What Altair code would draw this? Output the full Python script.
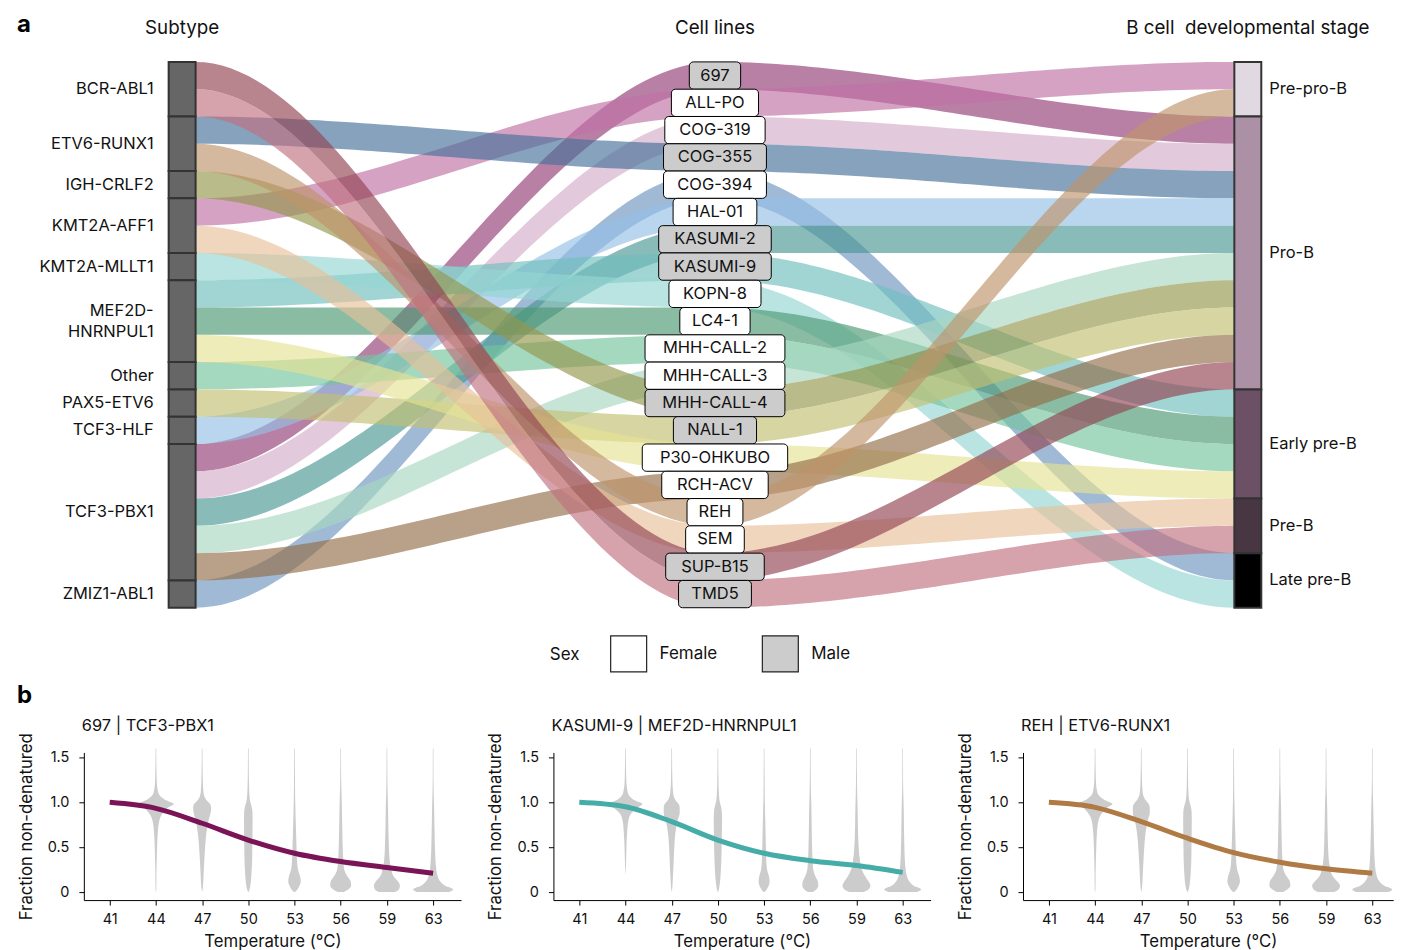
import altair as alt
import numpy as np
import pandas as pd

FONT = "Inter"

# ---------------- data: panel a (alluvial) ----------------
cell_lines = ["697", "ALL-PO", "COG-319", "COG-355", "COG-394", "HAL-01", "KASUMI-2",
              "KASUMI-9", "KOPN-8", "LC4-1", "MHH-CALL-2", "MHH-CALL-3", "MHH-CALL-4",
              "NALL-1", "P30-OHKUBO", "RCH-ACV", "REH", "SEM", "SUP-B15", "TMD5"]
cell_subtype = ["TCF3-PBX1", "KMT2A-AFF1", "TCF3-PBX1", "ETV6-RUNX1", "ZMIZ1-ABL1", "TCF3-HLF",
                "TCF3-PBX1", "MEF2D-HNRNPUL1", "KMT2A-MLLT1", "MEF2D-HNRNPUL1", "Other",
                "TCF3-PBX1", "IGH-CRLF2", "PAX5-ETV6", "MEF2D-HNRNPUL1", "TCF3-PBX1",
                "ETV6-RUNX1", "KMT2A-AFF1", "BCR-ABL1", "BCR-ABL1"]
cell_stage = ["Pro-B", "Pre-pro-B", "Pro-B", "Pro-B", "Late pre-B", "Pro-B", "Pro-B",
              "Early pre-B", "Late pre-B", "Early pre-B", "Early pre-B", "Pro-B", "Pro-B",
              "Pro-B", "Early pre-B", "Pro-B", "Pre-pro-B", "Pre-B", "Pro-B", "Pre-B"]
cell_sex = ["Male", "Female", "Female", "Male", "Female", "Female", "Male", "Male", "Female",
            "Female", "Female", "Female", "Male", "Male", "Female", "Female", "Female",
            "Female", "Male", "Male"]
subtypes = ["BCR-ABL1", "ETV6-RUNX1", "IGH-CRLF2", "KMT2A-AFF1", "KMT2A-MLLT1",
            "MEF2D-HNRNPUL1", "Other", "PAX5-ETV6", "TCF3-HLF", "TCF3-PBX1", "ZMIZ1-ABL1"]
stages = ["Pre-pro-B", "Pro-B", "Early pre-B", "Pre-B", "Late pre-B"]
sexes = ["Female", "Male"]
column_titles = ["Subtype", "Cell lines", "B cell\u00a0 developmental stage"]

# ---------------- data: panel b (melting curves) ----------------
temps = [41, 44, 47, 50, 53, 56, 59, 63]
panel_titles = ["697 | TCF3-PBX1", "KASUMI-9 | MEF2D-HNRNPUL1", "REH | ETV6-RUNX1"]
curve_697 = [1.0, 0.933, 0.767, 0.58, 0.433, 0.34, 0.274, 0.21]
curve_kasumi9 = [1.0, 0.95, 0.785, 0.58, 0.433, 0.35, 0.296, 0.22]
curve_reh = [1.0, 0.944, 0.785, 0.60, 0.44, 0.333, 0.26, 0.21]

# violin half-widths (px) read at these levels of fraction non-denatured
violin_levels = [0, 0.03, 0.07, 0.12, 0.18, 0.25, 0.35, 0.5, 0.65, 0.8, 0.88, 0.94, 0.98, 1.03, 1.1, 1.25, 1.6]
violin_697 = {
    44: [0, 0.4, 0.4, 0.5, 0.5, 0.6, 0.8, 1.2, 1.8, 3.5, 7, 12, 18, 9, 2.5, 0.8, 0.3],
    47: [0, 0.5, 0.9, 1.2, 1.4, 1.7, 2.2, 3.0, 4.2, 6.5, 8.5, 9, 8, 4, 1.5, 0.7, 0.3],
    50: [0.2, 1.2, 2.0, 2.6, 3.0, 3.4, 3.8, 4.0, 4.2, 4.3, 4.2, 3.6, 2.6, 1.6, 1.0, 0.6, 0.3],
    53: [0.5, 3.0, 5.0, 6.3, 5.5, 3.5, 2.5, 2.0, 1.6, 1.2, 1.0, 0.9, 0.8, 0.7, 0.6, 0.5, 0.3],
    56: [3, 7.5, 10.5, 10, 6.5, 3.6, 2.6, 2.0, 1.7, 1.4, 1.3, 1.2, 1.1, 1.0, 0.8, 0.5, 0.3],
    59: [8, 12, 13, 11, 6.5, 4.5, 2.8, 2.0, 1.6, 1.3, 1.2, 1.1, 1.0, 0.9, 0.7, 0.5, 0.3],
    63: [16, 20, 12, 7, 4.5, 3.2, 2.4, 1.8, 1.5, 1.2, 1.1, 1.0, 0.9, 0.8, 0.6, 0.4, 0.3],
}
violin_kasumi9 = {
    44: [0, 0, 0, 0, 0, 0.3, 0.6, 1.0, 1.6, 3, 6, 12, 17, 8, 2.5, 0.8, 0.3],
    47: [0, 0.4, 0.8, 1.0, 1.3, 1.6, 2.0, 2.6, 3.6, 6.0, 8.0, 8.0, 7.0, 3.5, 1.5, 0.7, 0.3],
    50: [0.2, 1.0, 1.6, 2.2, 2.6, 3.0, 3.4, 3.8, 4.0, 4.2, 4.0, 3.4, 2.4, 1.5, 1.0, 0.6, 0.3],
    53: [0.5, 2.6, 4.6, 5.5, 4.8, 3.0, 2.2, 1.8, 1.5, 1.2, 1.0, 0.9, 0.8, 0.7, 0.6, 0.5, 0.3],
    56: [2.5, 6, 8, 7.5, 5, 3, 2.3, 1.8, 1.5, 1.3, 1.2, 1.1, 1.0, 0.9, 0.7, 0.5, 0.3],
    59: [7, 12, 14, 12, 8.5, 5.5, 3.5, 2.2, 1.6, 1.3, 1.2, 1.1, 1.0, 0.9, 0.7, 0.5, 0.3],
    63: [14, 18.5, 11, 6.5, 4.2, 3.0, 2.2, 1.7, 1.4, 1.2, 1.1, 1.0, 0.9, 0.8, 0.6, 0.4, 0.3],
}
violin_reh = {
    44: [0, 0.4, 0.4, 0.5, 0.5, 0.6, 0.8, 1.2, 1.8, 3.5, 7, 12, 17.5, 9, 2.5, 0.8, 0.3],
    47: [0, 0.5, 0.9, 1.2, 1.4, 1.7, 2.2, 3.0, 4.2, 6.5, 8.5, 8.5, 7.5, 4, 1.5, 0.7, 0.3],
    50: [0.2, 1.2, 2.0, 2.6, 3.0, 3.4, 3.8, 4.0, 4.2, 4.3, 4.2, 3.6, 2.6, 1.6, 1.0, 0.6, 0.3],
    53: [0.5, 3.0, 5.0, 6.3, 5.5, 3.5, 2.5, 2.0, 1.6, 1.2, 1.0, 0.9, 0.8, 0.7, 0.6, 0.5, 0.3],
    56: [3, 7.5, 10.5, 10, 6.5, 3.6, 2.6, 2.0, 1.7, 1.4, 1.3, 1.2, 1.1, 1.0, 0.8, 0.5, 0.3],
    59: [8, 12.5, 14, 11, 6.5, 4.5, 2.8, 2.0, 1.6, 1.3, 1.2, 1.1, 1.0, 0.9, 0.7, 0.5, 0.3],
    63: [16, 20, 12, 7, 4.5, 3.2, 2.4, 1.8, 1.5, 1.2, 1.1, 1.0, 0.9, 0.8, 0.6, 0.4, 0.3],
}

# ---------------- styles ----------------
cell_colors_seen = ["#b980a6", "#d5a2c4", "#e3c9dc", "#87a2bc", "#a0bad6", "#bad5ee", "#89bbb9",
                    "#a1d5d4", "#b9e4e2", "#8abca3", "#a4d8bf", "#c6e5d6", "#babb8b", "#d7d6a3",
                    "#eeecb8", "#b9a088", "#d5b99e", "#efd6bd", "#b8858f", "#d6a2ac"]
stage_colors = ["#e0d9e1", "#ac91a6", "#6c5066", "#483643", "#000000"]
sex_fill = ["#ffffff", "#cccccc"]
line_colors = ["#7a1456", "#45aca8", "#b07a45"]
FLOW_ALPHA = 0.65


def base_colour(hexcol, a=FLOW_ALPHA):
    h = hexcol.lstrip("#")
    rgb = [int(h[i:i + 2], 16) for i in (0, 2, 4)]
    out = [max(0, min(255, round(255 - (255 - c) / a))) for c in rgb]
    return "#%02x%02x%02x" % tuple(out)


cell_colors = [base_colour(c) for c in cell_colors_seen]

# ---------------- layout (page pixels) ----------------
KX = 534.0            # px between the three columns
KY = 27.35            # px per cell line
BAR_HW = 13.5 / KX    # half width of the stacked bars (x units)
ORIGIN_X, ORIGIN_Y = 83, 29      # page position of the alluvial plot origin
COL0_PAGE, ROW0_PAGE = 181.5, 61
TOP_W, TOP_H = 1311, 678
LABEL_LINE_H = 21
x_dom = [(ORIGIN_X - COL0_PAGE) / KX, (ORIGIN_X + TOP_W - COL0_PAGE) / KX]
y_dom = [(ORIGIN_Y - ROW0_PAGE) / KY, (ORIGIN_Y + TOP_H - ROW0_PAGE) / KY]

PX_PER_IDX = 46.3
PANEL_WIDTHS = [378, 378, 371]
PANEL_H = 148
PX_LEFT = -0.56
PY_DOM = [-0.089, 1.556]

# ---------------- build alluvial tables ----------------
center_slot = {c: i for i, c in enumerate(cell_lines)}


def stacked(order, membership):
    slot, seg, pos = {}, [], 0
    for g in order:
        members = [c for c, m in zip(cell_lines, membership) if m == g]
        seg.append((g, pos, pos + len(members)))
        for c in members:
            slot[c] = pos
            pos += 1
    return slot, seg


left_slot, left_seg = stacked(subtypes, cell_subtype)
right_slot, right_seg = stacked(stages, cell_stage)

t = np.linspace(0, 1, 60)
s = t * t * (3 - 2 * t)
rows = []
for c in cell_lines:
    ci = center_slot[c]
    legs = {"L": (BAR_HW, 1.0, left_slot[c], ci), "R": (1.0, 2 - BAR_HW, ci, right_slot[c])}
    for side, (xa, xb, ya, yb) in legs.items():
        for tt, ss in zip(t, s):
            ytop = ya + (yb - ya) * ss
            rows.append(dict(flow=f"{c}|{side}", cell=c, x=xa + (xb - xa) * tt, y=ytop, y2=ytop + 1))
flows = pd.DataFrame(rows)

lb = pd.DataFrame(left_seg, columns=["name", "y0", "y1"])
lb["ym"] = (lb.y0 + lb.y1) / 2
lb["label"] = lb["name"].str.replace("MEF2D-HNRNPUL1", "MEF2D-\nHNRNPUL1")
nlines = lb["label"].str.count("\n")
lb["ly"] = lb["ym"] - nlines * LABEL_LINE_H / 2 / KY
lb["xa"], lb["xb"], lb["xc"] = -BAR_HW, BAR_HW, 0.0

rb = pd.DataFrame(right_seg, columns=["name", "y0", "y1"])
rb["ym"] = (rb.y0 + rb.y1) / 2
rb["xa"], rb["xb"], rb["xc"] = 2 - BAR_HW, 2 + BAR_HW, 2.0

EM = {"-": 0.42, "1": 0.45, "I": 0.28, "M": 0.88, "H": 0.74, "W": 0.97, "L": 0.54, "E": 0.58,
      "F": 0.56, "J": 0.51, "C": 0.71, "O": 0.75, "D": 0.72, "U": 0.73, "N": 0.75, "G": 0.73}


def text_w(txt, size=16.5):
    return sum(EM.get(ch, 0.58 if ch.isdigit() else 0.65) for ch in txt) * size


cb = pd.DataFrame(dict(cell=cell_lines, sex=cell_sex))
cb["y0"] = [center_slot[c] for c in cell_lines]
cb["y1"] = cb.y0 + 1
cb["ym"] = cb.y0 + 0.5
hw = [(1.2 * text_w(c) + 17) / 2 / KX for c in cell_lines]
cb["xa"] = [1 - h for h in hw]
cb["xb"] = [1 + h for h in hw]
cb["xc"] = 1.0

ct = pd.DataFrame(dict(col=[0.0, 1.0, 2.0], title=column_titles))

xs = alt.Scale(domain=x_dom, nice=False, zero=False)
ys = alt.Scale(domain=y_dom, nice=False, zero=False, reverse=True)


def PX(f):
    return alt.X(f, type="quantitative", scale=xs, axis=None)


def PY(f):
    return alt.Y(f, type="quantitative", scale=ys, axis=None)


colour_scale = alt.Scale(domain=cell_lines + stages, range=cell_colors + stage_colors)

flow_layer = alt.Chart(flows).mark_area(opacity=FLOW_ALPHA).encode(
    x=PX("x"), y=PY("y"), y2="y2:Q",
    color=alt.Color("cell:N", scale=colour_scale, legend=None),
    detail="flow:N",
)
lbar = alt.Chart(lb).mark_rect(fill="#666666", stroke="#333333", strokeWidth=2).encode(
    x=PX("xa"), x2="xb:Q", y=PY("y0"), y2="y1:Q")
ltext = alt.Chart(lb).mark_text(align="right", baseline="middle", dx=-28.5, fontSize=16.5,
                                font=FONT, lineBreak="\n", lineHeight=LABEL_LINE_H,
                                color="#111").encode(
    x=PX("xc"), y=PY("ly"), text="label:N")
rbar = alt.Chart(rb).mark_rect(stroke="#333333", strokeWidth=2).encode(
    x=PX("xa"), x2="xb:Q", y=PY("y0"), y2="y1:Q",
    color=alt.Color("name:N", scale=colour_scale, legend=None))
rtext = alt.Chart(rb).mark_text(align="left", baseline="middle", dx=21.5, fontSize=16.5,
                                font=FONT, color="#111").encode(
    x=PX("xc"), y=PY("ym"), text="name:N")
boxes = alt.Chart(cb).mark_rect(stroke="#000000", strokeWidth=1, cornerRadius=4).encode(
    x=PX("xa"), x2="xb:Q", y=PY("y0"), y2="y1:Q",
    fill=alt.Fill("sex:N", scale=alt.Scale(domain=sexes, range=sex_fill),
                  legend=alt.Legend(title="Sex", orient="none",
                                    legendX=550 - ORIGIN_X, legendY=635 - ORIGIN_Y,
                                    direction="horizontal", titleOrient="left",
                                    titleFontSize=17, titleFontWeight="normal", titleFont=FONT,
                                    titleColor="#111", titlePadding=30, titleBaseline="middle",
                                    titleAnchor="middle",
                                    labelFontSize=17, labelFont=FONT, labelColor="#111",
                                    labelOffset=12, columnPadding=42,
                                    symbolType="square", symbolSize=1300,
                                    symbolStrokeColor="#222", symbolStrokeWidth=1.2,
                                    symbolOpacity=1)))
btext = alt.Chart(cb).mark_text(baseline="middle", fontSize=16.5, font=FONT, color="#111").encode(
    x=PX("xc"), y=PY("ym"), text="cell:N")
ctext = alt.Chart(ct).mark_text(baseline="middle", fontSize=18.8, font=FONT, color="#111").encode(
    x=PX("col"), y=alt.value(27 - ORIGIN_Y), text="title:N")
letters = alt.Chart(pd.DataFrame(dict(txt=["a", "b"], yy=[24 - ORIGIN_Y, 696 - ORIGIN_Y]))).mark_text(
    align="left", baseline="middle", fontSize=24, fontWeight="bold", font=FONT, color="#000").encode(
    x=alt.value(16 - ORIGIN_X), y=alt.Y("yy:Q", scale=None), text="txt:N")

top = alt.layer(flow_layer, lbar, rbar, boxes, ltext, rtext, btext, ctext, letters).properties(
    width=TOP_W, height=TOP_H)

# ---------------- panels ----------------
temp_expr = "[" + ",".join(f"'{v}'" for v in temps) + "][round(datum.value)]"


def make_panel(title, curve, colour, violins, width):
    vrows = []
    for j, temp in enumerate(temps):
        widths = violins.get(temp)
        if widths is None:
            continue
        for lv, w in zip(violin_levels, widths):
            vrows.append(dict(idx=j, value=lv, w=w))
    vdf = pd.DataFrame(vrows)
    ldf = pd.DataFrame(dict(idx=list(range(len(temps))), value=curve))
    xsc = alt.Scale(domain=[PX_LEFT, PX_LEFT + width / PX_PER_IDX], nice=False, zero=False)
    ysc = alt.Scale(domain=PY_DOM, nice=False, zero=False)
    xax = alt.Axis(values=list(range(len(temps))), labelExpr=temp_expr, title="Temperature (°C)",
                   labelPadding=7, titlePadding=8)
    yax = alt.Axis(values=[0, 0.5, 1.0, 1.5],
                   labelExpr="datum.value == 0 ? '0' : format(datum.value, '.1f')",
                   title="Fraction non-denatured", labelPadding=10, titlePadding=12)
    vio = alt.Chart(vdf).transform_calculate(
        xl=f"datum.idx - datum.w / {PX_PER_IDX}", xr=f"datum.idx + datum.w / {PX_PER_IDX}"
    ).mark_area(orient="horizontal", color="#cccccc", interpolate="monotone").encode(
        y=alt.Y("value:Q", scale=ysc, axis=yax),
        x=alt.X("xl:Q", scale=xsc, axis=xax),
        x2="xr:Q",
        detail="idx:N",
    )
    line = alt.Chart(ldf).mark_line(color=colour, strokeWidth=5, interpolate="monotone").encode(
        x=alt.X("idx:Q", scale=xsc, axis=xax), y=alt.Y("value:Q", scale=ysc, axis=yax))
    return alt.layer(vio, line).properties(
        width=width, height=PANEL_H,
        title=alt.TitleParams(title, anchor="start", frame="group", fontSize=16.4,
                              fontWeight="normal", font=FONT, color="#111", offset=-2, dx=-2))


panels = [make_panel(panel_titles[0], curve_697, line_colors[0], violin_697, PANEL_WIDTHS[0]),
          make_panel(panel_titles[1], curve_kasumi9, line_colors[1], violin_kasumi9, PANEL_WIDTHS[1]),
          make_panel(panel_titles[2], curve_reh, line_colors[2], violin_reh, PANEL_WIDTHS[2])]
bottom = alt.hconcat(*panels, spacing=26.6)

chart = alt.vconcat(top, bottom, spacing=10).properties(
    padding={"left": 9, "top": 4, "right": 0, "bottom": 0}
).configure(font=FONT).configure_view(stroke=None).configure_axis(
    domainColor="#000", tickColor="#000", labelColor="#111", titleColor="#111",
    labelFont=FONT, titleFont=FONT, labelFontSize=14.5, titleFontSize=16.8,
    titleFontWeight="normal", grid=False, tickSize=5, domainWidth=1, tickWidth=1)

chart.save("out.html", embed_options={"renderer": "svg", "actions": False})
